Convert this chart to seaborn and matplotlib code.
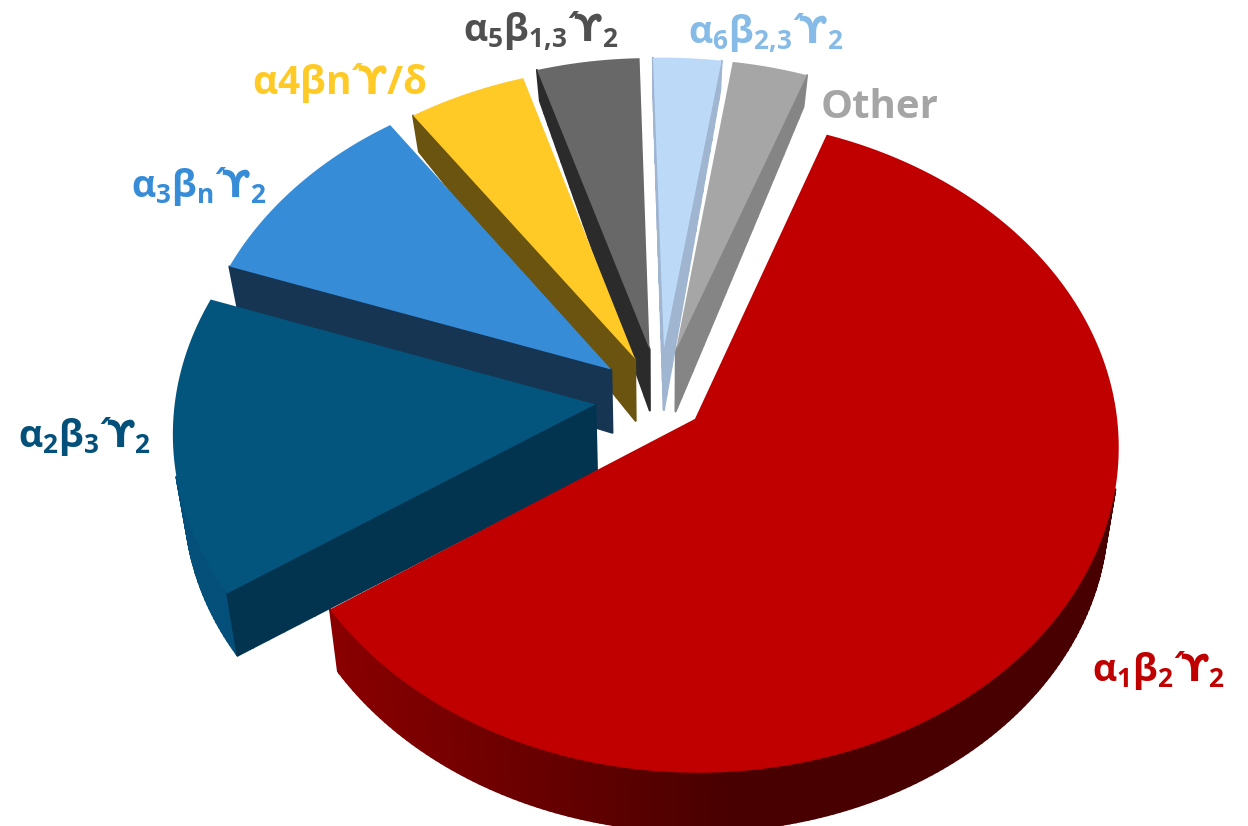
import numpy as np
import matplotlib
matplotlib.use("Agg")
import matplotlib.pyplot as plt
from matplotlib.path import Path
from matplotlib.transforms import Transform, Affine2D
from matplotlib.collections import PolyCollection
from matplotlib.colors import to_rgb
import seaborn as sns

PR = r"\!\mathcal{´}\!\mathcal{ϒ}"
labels = [r"$\mathbf{α_{1}β_{2}}" + PR + r"_{\mathbf{2}}$", r"$\mathbf{α_{2}β_{3}}" + PR + r"_{\mathbf{2}}$",
          r"$\mathbf{α_{3}β_{n}}" + PR + r"_{\mathbf{2}}$", r"$\mathbf{α4βn}" + PR + r"\mathbf{/δ}$",
          r"$\mathbf{α_{5}β_{1{,}3}}" + PR + r"_{\mathbf{2}}$", r"$\mathbf{α_{6}β_{2{,}3}}" + PR + r"_{\mathbf{2}}$", "Other"]
shares = [60.0, 14.85, 9.9, 4.95, 4.3, 2.85, 3.15]
explode = [0.105, 0.155, 0.147, 0.137, 0.155, 0.155, 0.155]
top_colors = ["#C00000", "#03557D", "#378CD8", "#FFC926", "#676867", "#BDD9F8", "#A5A6A5"]
side_colors = ["#8A0000", "#02344F", "#153552", "#6B5310", "#2B2B2B", "#9FB5D0", "#858585"]
rim_left = ["#8A0000", "#04507A", "#153552", "#6B5310", "#2B2B2B", "#9FB5D0", "#858585"]
rim_right = ["#480000", "#023A58", "#153552", "#6B5310", "#2B2B2B", "#9FB5D0", "#858585"]
text_colors = ["#C00000", "#03507A", "#378CD8", "#FFC926", "#505050", "#85BBE6", "#A5A5A5"]
label_x = [1158, 84, 199, 339, 541, 766, 880]
label_y = [671, 436, 186, 83, 31, 33, 107]
label_size = [27, 27, 27, 28, 27, 27, 29]

sns.set_theme(style="white")
plt.rcParams["font.family"] = ["Open Sans", "DejaVu Sans"]
plt.rcParams["mathtext.fontset"] = "custom"
plt.rcParams["mathtext.bf"] = "Open Sans:bold"
plt.rcParams["mathtext.rm"] = "Open Sans:bold"
plt.rcParams["mathtext.cal"] = "DejaVu Sans:bold"
plt.rcParams["mathtext.fallback"] = "cm"

CX, CY, RX, RY, PERSP = 660.0, 398.0, 420.0, 322.0, 0.08


def depth_of(y):
    return np.interp(y, [-1.2, 0.0, 1.2], [58.0, 66.0, 28.0])


def project(xy, z=0.0):
    xy = np.asarray(xy, float)
    s = 1.0 / (1.0 + PERSP * xy[:, 1])
    d = depth_of(xy[:, 1]) * z
    shrink = 1.0 - 0.024 * z
    return np.column_stack([CX + RX * xy[:, 0] * s * shrink, CY - RY * xy[:, 1] * s + d])


def flatten(path):
    scale = Affine2D().scale(2000)
    return path.to_polygons(transform=scale, closed_only=False)[0] / 2000.0


class TopFace(Transform):
    input_dims = output_dims = 2
    is_affine = False

    def __init__(self, target):
        super().__init__()
        self.target = target

    def transform_non_affine(self, values):
        return self.target.transform(project(values))

    def transform_path_non_affine(self, path):
        return Path(self.transform_non_affine(flatten(path)))


fig, ax = plt.subplots(figsize=(12.48, 8.26), dpi=100)
fig.subplots_adjust(0, 0, 1, 1)
wedges, _ = ax.pie(shares, explode=explode, startangle=70, counterclock=False,
                   colors=sns.color_palette(top_colors), radius=1.0)
ax.set_xlim(0, 1248)
ax.set_ylim(826, 0)
ax.set_aspect("auto")
ax.axis("off")

for order, (i, w) in enumerate(zip(range(len(wedges) - 1, -1, -1), wedges[::-1])):
    w.set_transform(TopFace(ax.transData))
    w.set_clip_on(False)
    w.set_linewidth(0)
    w.set_zorder(10 + 2 * order + 1)
    poly = flatten(w.get_path())
    if np.allclose(poly[0], poly[-1]):
        poly = poly[:-1]
    dense = []
    for a, b in zip(poly, np.roll(poly, -1, axis=0)):
        n = 24 if np.hypot(*(a - b)) > 0.3 else 1
        for t in np.arange(n) / n:
            dense.append(a + (b - a) * t)
    poly = np.array(dense)
    top, bot = project(poly), project(poly, 1.0)
    area = 0.5 * np.sum(top[:, 0] * np.roll(top[:, 1], -1) - np.roll(top[:, 0], -1) * top[:, 1])
    apex = np.array(w.center)
    quads, cols = [], []
    lo, hi, side = np.array(to_rgb(rim_left[i])), np.array(to_rgb(rim_right[i])), to_rgb(side_colors[i])
    for k in range(len(poly)):
        m = (k + 1) % len(poly)
        dx, dy = top[m] - top[k]
        nrm = np.array([dy, -dx]) * np.sign(area)
        off = (bot[k] + bot[m] - top[k] - top[m]) / 2
        if nrm @ off <= 0:
            continue
        quads.append([top[k], top[m], bot[m], bot[k]])
        rim = min(np.hypot(*(poly[k] - apex)), np.hypot(*(poly[m] - apex))) > 0.9 and \
            abs(np.hypot(*(poly[k] - apex)) - np.hypot(*(poly[m] - apex))) < 0.01
        if rim:
            t = np.clip((top[k][0] - 330) / 400, 0, 1)
            cols.append(lo + (hi - lo) * t)
        else:
            cols.append(side)
    ax.add_collection(PolyCollection(quads, facecolors=cols, edgecolors=cols, linewidths=1.5,
                                     zorder=10 + 2 * order, clip_on=False), autolim=False)

for lab, x, y, c, sz in zip(labels, label_x, label_y, text_colors, label_size):
    ax.text(x, y, lab, color=c, fontsize=sz, fontweight="bold", ha="center", va="center", zorder=40)

fig.savefig("out.png", dpi=100, facecolor="white")
